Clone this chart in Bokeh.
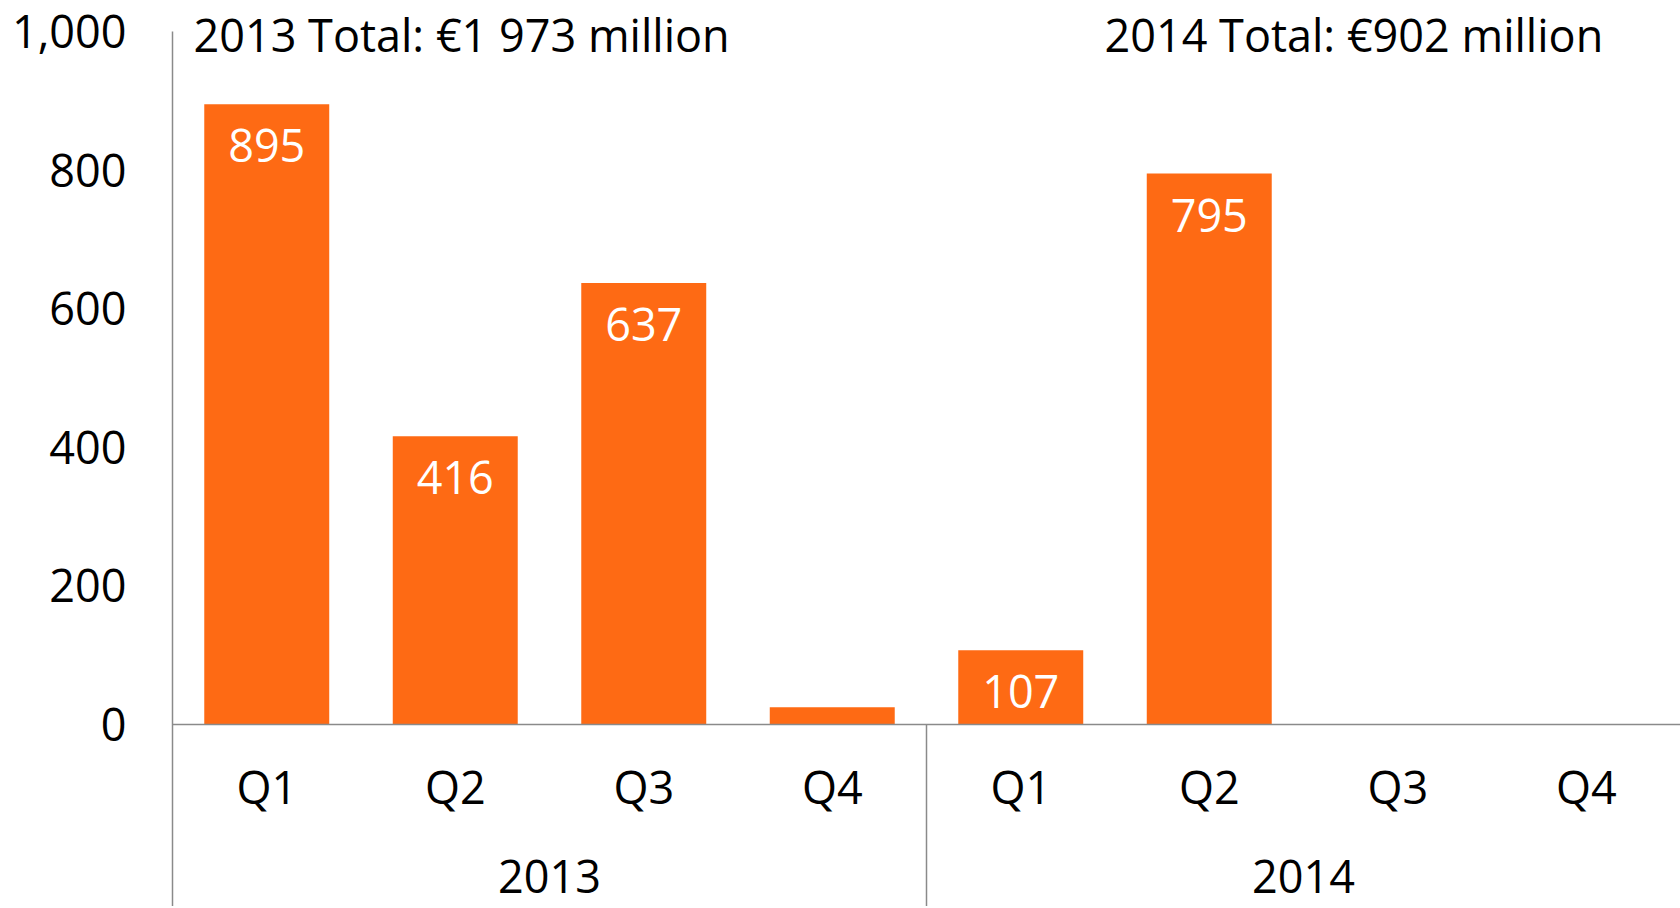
from bokeh.plotting import figure
from bokeh.models import FactorRange, Range1d, FixedTicker, NumeralTickFormatter, Span, Label, ColumnDataSource
from bokeh.core.properties import value
from bokeh.embed import file_html
from bokeh.resources import INLINE

# ---- data ----
years = ["2013", "2013", "2013", "2013", "2014", "2014", "2014", "2014"]
quarters = ["Q1", "Q2", "Q3", "Q4", "Q1", "Q2", "Q3", "Q4"]
values = [895, 416, 637, 25, 107, 795, 0, 0]
bar_labels = ["895", "416", "637", "", "107", "795", "", ""]
year_groups = ["2013", "2014"]
total_texts = ["2013 Total: €1 973 million", "2014 Total: €902 million"]
y_ticks = [0, 200, 400, 600, 800, 1000]

ORANGE = "#FE6A14"
GRAY = "#8A8A8A"
FONT = "Open Sans"
FS = "45px"

Y_START, Y_END = -262.6, 1040.4

factors = list(zip(years, quarters))
src = ColumnDataSource(dict(x=factors, v=values, lbl=bar_labels, q=quarters))

p = figure(
    width=1680, height=906,
    x_range=FactorRange(*factors, factor_padding=0, group_padding=0, range_padding=0),
    y_range=Range1d(Y_START, Y_END),
    output_backend="svg", toolbar_location=None,
    min_border_left=172, min_border_right=0, min_border_top=3, min_border_bottom=0,
)
p.outline_line_color = None
p.xgrid.visible = False
p.ygrid.visible = False
p.xaxis.visible = False

ax = p.yaxis[0]
ax.ticker = FixedTicker(ticks=y_ticks)
ax.formatter = NumeralTickFormatter(format="0,0")
ax.bounds = (Y_START, 1000)
ax.major_tick_out = 0
ax.major_tick_in = 0
ax.minor_tick_out = 0
ax.minor_tick_in = 0
ax.axis_line_color = GRAY
ax.axis_line_width = 1.5
ax.major_label_standoff = 46
ax.major_label_text_font = FONT
ax.major_label_text_font_size = FS
ax.major_label_text_color = "black"

# bars
p.vbar(x="x", top="v", width=0.663, source=src, fill_color=ORANGE, line_color=None)

# zero line
p.add_layout(Span(location=0, dimension="width", line_color=GRAY, line_width=1.5))

# value labels inside bars
p.text(x="x", y="v", text="lbl", source=src, y_offset=25,
       text_align="center", text_baseline="top", text_color="white",
       text_font=value(FONT), text_font_size=FS)

# quarter labels
p.text(x="x", y=-89.5, text="q", source=src,
       text_align="center", text_baseline="middle", text_color="black",
       text_font=value(FONT), text_font_size=FS)

# year labels
p.text(x=year_groups, y=[-219.3, -219.3], text=year_groups,
       text_align="center", text_baseline="middle", text_color="black",
       text_font=value(FONT), text_font_size=FS)

# group separator
sep = ("2014", "Q1", -0.5)
p.segment(x0=[sep], y0=[0], x1=[sep], y1=[Y_START], line_color=GRAY, line_width=1.5)

# totals (positions in the range's synthetic units: 0 = left edge, 4 = group boundary)
p.add_layout(Label(x=0, y=995, x_offset=21, text=total_texts[0],
                   text_align="left", text_baseline="middle", text_color="black",
                   text_font=FONT, text_font_size=FS))
p.add_layout(Label(x=4, y=995, x_offset=178, text=total_texts[1],
                   text_align="left", text_baseline="middle", text_color="black",
                   text_font=FONT, text_font_size=FS))

open("out.html", "w").write(file_html(p, INLINE))
